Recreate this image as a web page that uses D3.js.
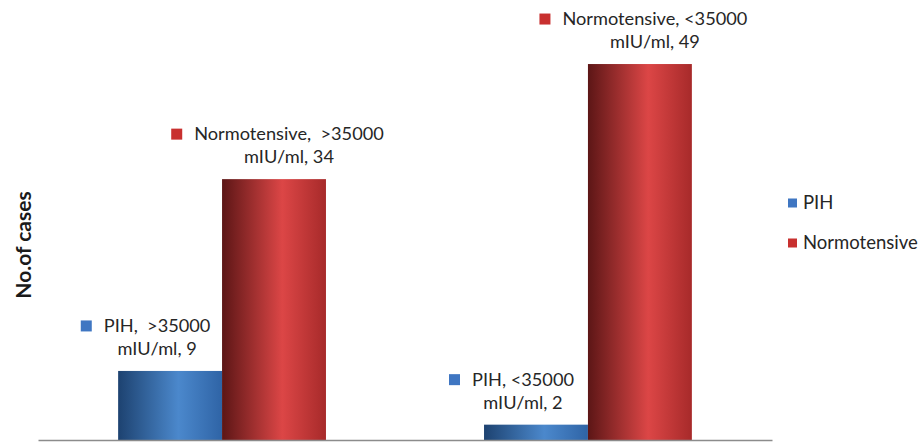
<!DOCTYPE html>
<html>
<head>
<meta charset="utf-8">
<script src="https://cdn.jsdelivr.net/npm/d3@7"></script>
<style>
  html, body { margin: 0; padding: 0; background: #fff; }
  svg { display: block; }
</style>
</head>
<body>
<svg id="chart"></svg>
<script>
// data
const categories = [">35000", "<35000"];
const seriesNames = ["PIH", "Normotensive"];
const pihValues = [9, 2];
const normoValues = [34, 49];
const unitLabel = "mIU/ml";

const width = 922;
const height = 442;
const colors = ["#3f76c2", "#c8302f"];
// horizontal cylinder shading per series: [left, mid-light, right]
const shades = [
  ["#1d4270", "#4b88cc", "#2f64a6"],
  ["#5c1616", "#dc4646", "#a72a2a"]
];
const labelFont = "Lato, 'Open Sans', sans-serif";

const svg = d3.select("#chart")
  .attr("width", width)
  .attr("height", height);

const defs = svg.append("defs");
shades.forEach((s, i) => {
  const g = defs.append("linearGradient")
    .attr("id", "grad" + i)
    .attr("x1", "0%").attr("x2", "100%")
    .attr("y1", "0%").attr("y2", "0%");
  g.append("stop").attr("offset", "0%").attr("stop-color", s[0]);
  g.append("stop").attr("offset", "58%").attr("stop-color", s[1]);
  g.append("stop").attr("offset", "100%").attr("stop-color", s[2]);
});

const x0 = d3.scaleBand()
  .domain(categories)
  .range([38, 772])
  .paddingInner(0.432)
  .paddingOuter(0.219);

const x1 = d3.scaleBand()
  .domain(seriesNames)
  .range([0, x0.bandwidth()]);

const y = d3.scaleLinear()
  .domain([0, 55])
  .range([440, 18]);

const data = categories.map((c, i) => ({
  category: c,
  values: [
    {series: "PIH", value: pihValues[i], idx: 0},
    {series: "Normotensive", value: normoValues[i], idx: 1}
  ]
}));

const groups = svg.append("g")
  .selectAll("g")
  .data(data)
  .join("g")
  .attr("transform", d => `translate(${x0(d.category)},0)`);

groups.selectAll("rect")
  .data(d => d.values)
  .join("rect")
  .attr("x", d => x1(d.series))
  .attr("y", d => y(d.value))
  .attr("width", x1.bandwidth())
  .attr("height", d => y(0) - y(d.value))
  .attr("fill", d => "url(#grad" + d.idx + ")");

// axis line
svg.append("g")
  .attr("transform", `translate(0,${y(0)})`)
  .call(d3.axisBottom(x0).tickSize(0).tickFormat(""))
  .call(g => g.select(".domain").attr("stroke", "#8c8c8c").attr("stroke-width", 1.6));

// data labels with legend key
const labelDx = [-13, 15];
const labels = svg.append("g");
data.forEach(d => {
  d.values.forEach(v => {
    const cx = x0(d.category) + x1(v.series) + x1.bandwidth() / 2 + labelDx[v.idx];
    const top = y(v.value);
    const sep = d.category === ">35000" ? ",  " : ", ";
    const g = labels.append("g")
      .attr("font-family", labelFont)
      .attr("font-size", 18.2)
      .attr("fill", "#262626");
    const line1 = g.append("text")
      .attr("x", cx)
      .attr("y", top - 45)
      .attr("text-anchor", "middle")
      .attr("dy", "0.35em")
      .style("white-space", "pre")
      .text(v.series + sep + d.category);
    g.append("text")
      .attr("x", cx)
      .attr("y", top - 22)
      .attr("text-anchor", "middle")
      .attr("dy", "0.35em")
      .text(unitLabel + ", " + v.value);
    const w = line1.node().getComputedTextLength();
    g.append("rect")
      .attr("x", cx - w / 2 - 23)
      .attr("y", top - 45 - 5.5)
      .attr("width", 11)
      .attr("height", 11)
      .attr("fill", colors[v.idx]);
  });
});

// legend
const legend = svg.append("g")
  .attr("font-family", labelFont)
  .attr("font-size", 18.5)
  .attr("fill", "#262626");
const ly = d3.scalePoint().domain(seriesNames).range([203, 243]);
seriesNames.forEach((s, i) => {
  legend.append("rect")
    .attr("x", 788)
    .attr("y", ly(s) - 4.5)
    .attr("width", 9)
    .attr("height", 9)
    .attr("fill", colors[i]);
  legend.append("text")
    .attr("x", 803)
    .attr("y", ly(s))
    .attr("dy", "0.35em")
    .text(s);
});

// y axis title
svg.append("text")
  .attr("transform", "translate(24,245) rotate(-90)")
  .attr("text-anchor", "middle")
  .attr("dy", "0.35em")
  .attr("font-family", labelFont)
  .attr("font-weight", "bold")
  .attr("font-size", 21)
  .attr("fill", "#1a1a1a")
  .text("No.of cases");
</script>
</body>
</html>
